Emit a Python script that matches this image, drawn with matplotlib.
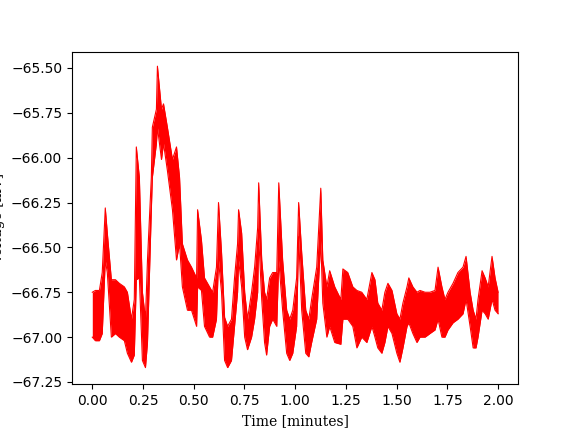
import matplotlib
matplotlib.use("Agg")
import matplotlib.pyplot as plt

# time axis (minutes) and upper / lower envelope of the voltage trace (mV)
time = [0.000, 0.015, 0.035, 0.049, 0.064, 0.074, 0.094, 0.114, 0.133, 0.158,
        0.173, 0.193, 0.207, 0.217, 0.232, 0.247, 0.262, 0.272, 0.291, 0.296,
        0.316, 0.321, 0.341, 0.351, 0.370, 0.395, 0.415, 0.430, 0.444, 0.469,
        0.489, 0.514, 0.519, 0.538, 0.553, 0.578, 0.593, 0.612, 0.622, 0.637,
        0.652, 0.667, 0.686, 0.701, 0.716, 0.721, 0.736, 0.751, 0.765, 0.785,
        0.800, 0.815, 0.820, 0.835, 0.849, 0.859, 0.874, 0.889, 0.909, 0.919,
        0.938, 0.958, 0.973, 0.988, 1.007, 1.017, 1.032, 1.052, 1.067, 1.081,
        1.106, 1.116, 1.126, 1.136, 1.156, 1.170, 1.195, 1.225, 1.235, 1.259,
        1.284, 1.304, 1.328, 1.353, 1.378, 1.393, 1.407, 1.427, 1.442, 1.457,
        1.477, 1.501, 1.516, 1.531, 1.551, 1.560, 1.580, 1.600, 1.615, 1.640,
        1.664, 1.689, 1.704, 1.723, 1.738, 1.753, 1.778, 1.802, 1.827, 1.842,
        1.862, 1.877, 1.891, 1.901, 1.921, 1.936, 1.951, 1.970, 1.985, 2.000]

v_high = [-66.75, -66.74, -66.74, -66.64, -66.28, -66.42, -66.68, -66.68, -66.70, -66.72,
          -66.75, -66.90, -66.79, -65.94, -66.11, -66.75, -66.90, -66.57, -66.11, -65.83,
          -65.73, -65.49, -65.73, -65.70, -65.83, -66.01, -65.94, -66.11, -66.48, -66.57,
          -66.61, -66.67, -66.29, -66.46, -66.67, -66.72, -66.75, -66.61, -66.25, -66.53,
          -66.89, -66.94, -66.90, -66.67, -66.48, -66.29, -66.42, -66.75, -66.90, -66.75,
          -66.61, -66.39, -66.14, -66.57, -66.75, -66.79, -66.67, -66.64, -66.64, -66.14,
          -66.57, -66.85, -66.90, -66.85, -66.67, -66.25, -66.53, -66.85, -66.90, -66.79,
          -66.61, -66.39, -66.17, -66.57, -66.72, -66.63, -66.72, -66.79, -66.62, -66.64,
          -66.72, -66.74, -66.75, -66.79, -66.64, -66.68, -66.81, -66.85, -66.75, -66.70,
          -66.74, -66.87, -66.90, -66.81, -66.72, -66.67, -66.72, -66.75, -66.74, -66.75,
          -66.75, -66.74, -66.61, -66.72, -66.79, -66.75, -66.70, -66.64, -66.61, -66.55,
          -66.75, -66.85, -66.90, -66.79, -66.63, -66.67, -66.72, -66.55, -66.67, -66.75]

v_low = [-67.00, -67.02, -67.02, -66.98, -66.57, -66.64, -67.00, -66.98, -67.00, -67.02,
         -67.09, -67.14, -67.10, -66.68, -66.67, -67.13, -67.17, -67.03, -66.29, -66.11,
         -65.92, -65.83, -66.01, -65.92, -66.07, -66.29, -66.57, -66.48, -66.72, -66.85,
         -66.85, -66.94, -66.72, -66.74, -66.94, -67.00, -67.00, -66.90, -66.57, -66.75,
         -67.13, -67.17, -67.13, -66.94, -66.75, -66.57, -66.72, -67.00, -67.07, -67.00,
         -66.90, -66.75, -66.44, -66.79, -67.03, -67.10, -66.94, -66.90, -66.94, -66.57,
         -66.85, -67.09, -67.13, -67.09, -66.94, -66.44, -66.85, -67.09, -67.11, -67.03,
         -66.90, -66.67, -66.46, -66.81, -67.00, -66.94, -67.03, -67.04, -66.90, -66.90,
         -66.94, -67.06, -67.00, -67.03, -66.94, -67.00, -67.06, -67.09, -67.03, -66.94,
         -66.98, -67.09, -67.14, -67.06, -66.94, -66.92, -66.98, -67.03, -67.00, -67.00,
         -66.98, -66.96, -66.90, -67.00, -67.00, -66.96, -66.92, -66.90, -66.87, -66.79,
         -66.94, -67.06, -67.06, -67.00, -66.85, -66.87, -66.90, -66.79, -66.85, -66.87]

fig, ax = plt.subplots(figsize=(5.76, 4.32), dpi=100)

ax.fill_between(time, v_low, v_high, color="red", linewidth=0)
ax.plot(time, v_high, color="red", linewidth=0.8)
ax.plot(time, v_low, color="red", linewidth=0.8)

ax.set_xlim(-0.1, 2.1)
ax.set_ylim(-67.264, -65.41)
ax.set_xticks([0.0, 0.25, 0.5, 0.75, 1.0, 1.25, 1.5, 1.75, 2.0])
ax.set_yticks([-65.5, -65.75, -66.0, -66.25, -66.5, -66.75, -67.0, -67.25])
ax.set_xlabel("Time [minutes]", family="serif")
ax.set_ylabel("Voltage [mV]", family="serif")

plt.savefig("out.png")
